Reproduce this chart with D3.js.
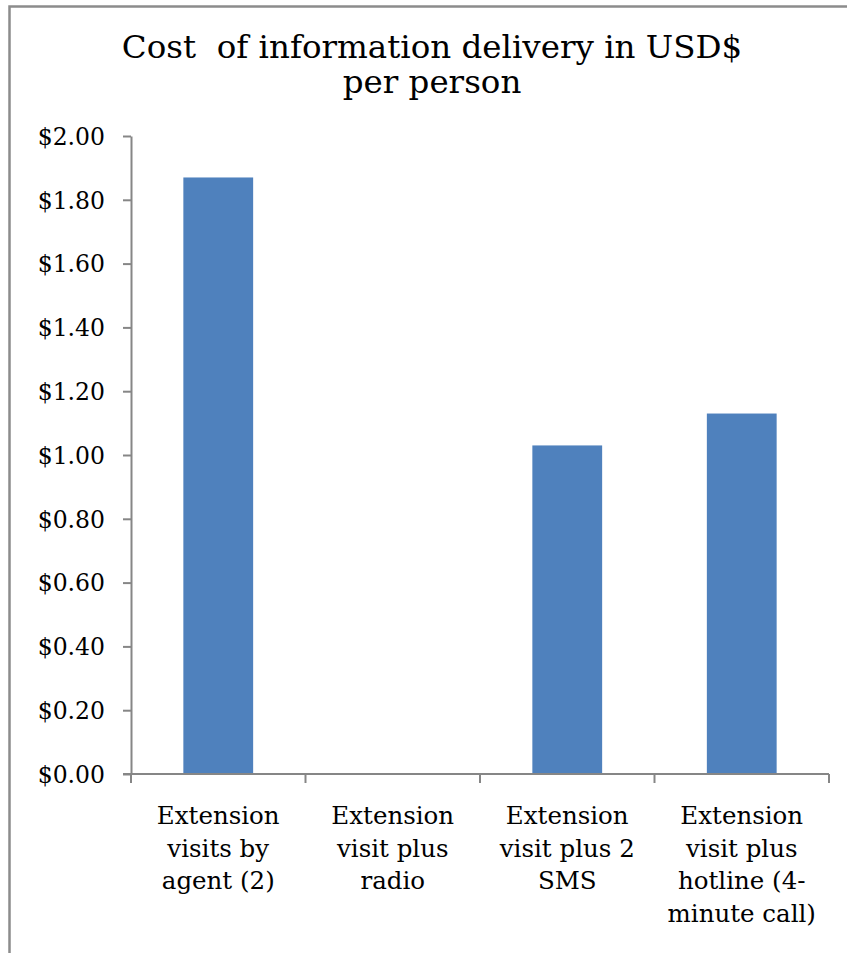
<!DOCTYPE html>
<html>
<head>
<meta charset="utf-8">
<script src="https://cdn.jsdelivr.net/npm/d3@7"></script>
<style>
  html, body { margin: 0; padding: 0; background: #fff; }
  svg { display: block; }
</style>
</head>
<body>
<script>
// Cost per person for each information-delivery approach
const categories = [
  ["Extension", "visits by", "agent (2)"],
  ["Extension", "visit plus", "radio"],
  ["Extension", "visit plus 2", "SMS"],
  ["Extension", "visit plus", "hotline (4-", "minute call)"]
];
const costs = [1.87, 0, 1.03, 1.13];
const yTicks = [0, 0.2, 0.4, 0.6, 0.8, 1.0, 1.2, 1.4, 1.6, 1.8, 2.0];
const titleLines = ["Cost  of information delivery in USD$", "per person"];

const W = 847, H = 953;
const plot = { left: 131, right: 829, top: 136, bottom: 774 };
const serif = "'DejaVu Serif', serif";
const axisGray = "#868686";

const svg = d3.select("body").append("svg")
  .attr("width", W).attr("height", H);

// chart frame
svg.append("rect")
  .attr("x", 9.5).attr("y", 6.5)
  .attr("width", 880).attr("height", 1000)
  .attr("fill", "none")
  .attr("stroke", "#8c8c8c")
  .attr("stroke-width", 2.5);

// title
svg.append("text")
  .attr("x", 432).attr("y", 58)
  .attr("text-anchor", "middle")
  .style("font-family", serif)
  .style("font-size", "32.5px")
  .style("white-space", "pre")
  .style("fill", "#000")
  .selectAll("tspan")
  .data(titleLines)
  .join("tspan")
  .attr("x", 432)
  .attr("dy", (d, i) => i === 0 ? 0 : 35)
  .text(d => d);

const x = d3.scaleBand()
  .domain(d3.range(categories.length))
  .range([plot.left, plot.right])
  .paddingInner(0.6)
  .paddingOuter(0.3);

const y = d3.scaleLinear()
  .domain([0, 2])
  .range([plot.bottom, plot.top]);

// bars
svg.append("g")
  .selectAll("rect")
  .data(costs)
  .join("rect")
  .attr("x", (d, i) => x(i))
  .attr("width", x.bandwidth())
  .attr("y", d => y(d))
  .attr("height", d => y(0) - y(d))
  .attr("fill", "#4f81bd");

// y axis
const yAxis = svg.append("g")
  .attr("transform", `translate(${plot.left},0)`)
  .call(d3.axisLeft(y).tickValues(yTicks).tickSize(8).tickSizeOuter(0)
    .tickPadding(18)
    .tickFormat(d => "$" + d3.format(".2f")(d)));
yAxis.select(".domain").attr("stroke", axisGray).attr("stroke-width", 2);
yAxis.selectAll(".tick line").attr("stroke", axisGray).attr("stroke-width", 2);
yAxis.selectAll(".tick text")
  .style("font-family", serif)
  .style("font-size", "23.5px")
  .attr("fill", "#000")
  .attr("dy", "0.35em");

// x axis: line with tick marks at category boundaries
const xAxisG = svg.append("g");
xAxisG.append("line")
  .attr("x1", plot.left - 8).attr("x2", plot.right)
  .attr("y1", y(0)).attr("y2", y(0))
  .attr("stroke", axisGray).attr("stroke-width", 2);
const boundaries = d3.range(categories.length + 1)
  .map(i => plot.left + i * x.step());
xAxisG.selectAll("line.tick")
  .data(boundaries)
  .join("line")
  .attr("class", "tick")
  .attr("x1", d => d).attr("x2", d => d)
  .attr("y1", y(0)).attr("y2", y(0) + 9)
  .attr("stroke", axisGray).attr("stroke-width", 2);

// category labels
xAxisG.selectAll("text")
  .data(categories)
  .join("text")
  .attr("text-anchor", "middle")
  .attr("y", 824)
  .style("font-family", serif)
  .style("font-size", "24.5px")
  .attr("fill", "#000")
  .selectAll("tspan")
  .data((d, i) => d.map(s => ({ s, i })))
  .join("tspan")
  .attr("x", d => x(d.i) + x.bandwidth() / 2)
  .attr("dy", (d, j) => j === 0 ? 0 : 32.5)
  .text(d => d.s);
</script>
</body>
</html>
